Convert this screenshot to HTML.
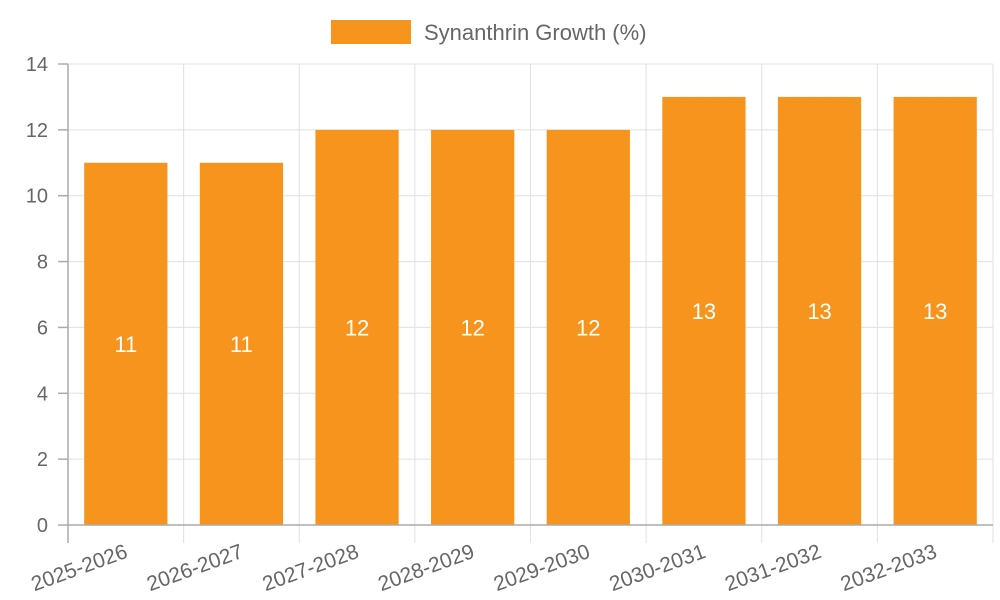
<!DOCTYPE html>
<html><head><meta charset="utf-8">
<style>
html,body{margin:0;padding:0;background:#fff;}
svg{display:block;font-family:"Liberation Sans",sans-serif;}
</style></head>
<body>
<svg id="chart" width="1000" height="600" viewBox="0 0 1000 600" xmlns="http://www.w3.org/2000/svg">
  <g>
    <rect x="331" y="20" width="80" height="24" fill="#f7941d"/>
    <text x="424" y="40" font-size="22" fill="#666">Synanthrin Growth (%)</text>
  </g>
  <g id="grid"></g>
  <g id="bars"></g>
  <g id="axes"></g>
</svg>
<script>
const categories = ["2025-2026","2026-2027","2027-2028","2028-2029","2029-2030","2030-2031","2031-2032","2032-2033"];
const values = [11,11,12,12,12,13,13,13];
const yTicks = [0,2,4,6,8,10,12,14];

const NS = "http://www.w3.org/2000/svg";
const L = 68, R = 993, T = 64, B = 525, yMax = 14;
const catW = (R - L) / categories.length;
const y = v => B - (v / yMax) * (B - T);
const xc = i => L + catW * (i + 0.5);
function mk(tag, attrs, parent) {
  const e = document.createElementNS(NS, tag);
  for (const k in attrs) e.setAttribute(k, attrs[k]);
  parent.appendChild(e);
  return e;
}
const grid = document.getElementById("grid");
const bars = document.getElementById("bars");
const axes = document.getElementById("axes");

yTicks.forEach(t => {
  const gl = mk("line", {x1: L, x2: R, y1: y(t), y2: y(t), stroke: "#e0e0e0", "stroke-width": 1}, grid);
  
  
  const tk = mk("line", {x1: L - 10, x2: L, y1: y(t), y2: y(t), stroke: "#aaa", "stroke-width": 1.5}, axes);
  
  
  const lb = mk("text", {x: L - 20, y: y(t) + 7, "text-anchor": "end", "font-size": 20, fill: "#666"}, axes);
  lb.textContent = t;
  
  
});
for (let i = 0; i <= categories.length; i++) {
  const x = L + catW * i;
  const gl = mk("line", {x1: x, x2: x, y1: T, y2: B + 18, stroke: i === 0 ? "#aaa" : "#e0e0e0", "stroke-width": i === 0 ? 1.5 : 1}, grid);
  
  
}
mk("line", {x1: L, x2: R, y1: B, y2: B, stroke: "#aaa", "stroke-width": 1.5}, axes);

const bw = catW * 0.72;
categories.forEach((c, i) => {
  const v = values[i];
  const r = mk("rect", {x: xc(i) - bw / 2, y: y(v), width: bw, height: B - y(v), fill: "#f7941d"}, bars);
  
  
  const vl = mk("text", {x: xc(i), y: (y(v) + B) / 2 + 8, "text-anchor": "middle", "font-size": 22, fill: "#fff"}, bars);
  vl.textContent = v;
  
  
  const xl = mk("text", {x: 0, y: 0, "text-anchor": "end", "font-size": 21, fill: "#666", transform: `translate(${xc(i) + 3},${B + 32}) rotate(-20)`}, axes);
  xl.textContent = c;
  
  
});
</script>
</body></html>
